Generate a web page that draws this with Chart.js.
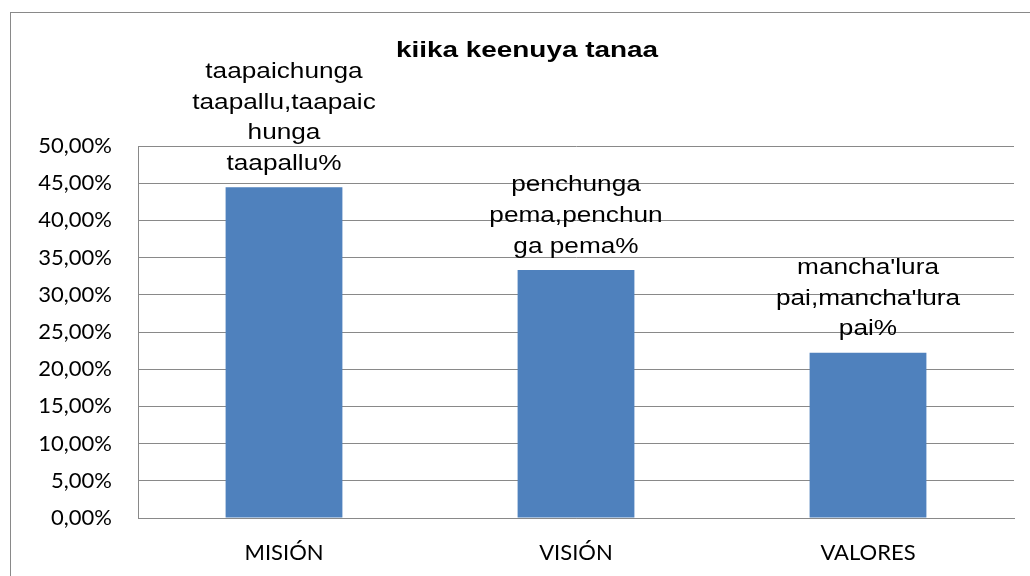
<!DOCTYPE html>
<html>
<head>
<meta charset="utf-8">
<script src="https://cdn.jsdelivr.net/npm/chart.js@4/dist/chart.umd.min.js"></script>
<style>
  html, body { margin: 0; padding: 0; background: #fff; }
  #wrap { width: 1030px; height: 576px; position: relative; overflow: hidden; }
</style>
</head>
<body>
<div id="wrap"><canvas id="c" width="1030" height="576"></canvas></div>
<script>
const chartTitle = "kiika keenuya tanaa";
const categories = ["MISIÓN", "VISIÓN", "VALORES"];
const seriesValues = [44.44, 33.33, 22.22];
const dataLabels = [
  ["taapaichunga", "taapallu,taapaic", "hunga", "taapallu%"],
  ["penchunga", "pema,penchun", "ga pema%"],
  ["mancha'lura", "pai,mancha'lura", "pai%"]
];
const yTickLabels = ["0,00%", "5,00%", "10,00%", "15,00%", "20,00%", "25,00%",
                     "30,00%", "35,00%", "40,00%", "45,00%", "50,00%"];

const GRID = '#898989';

const decorPlugin = {
  id: 'decor',
  beforeDraw(chart) {
    const ctx = chart.ctx;
    ctx.save();
    ctx.strokeStyle = GRID;
    ctx.lineWidth = 1;
    ctx.strokeRect(10.5, 12.5, 1300, 1000);
    ctx.restore();
  },
  afterDraw(chart) {
    const ctx = chart.ctx;
    ctx.save();
    ctx.fillStyle = '#000';
    // title
    ctx.font = 'bold 21.8px "Liberation Sans", Arial, sans-serif';
    ctx.textAlign = 'center';
    ctx.textBaseline = 'alphabetic';
    ctx.save();
    ctx.translate(527, 57);
    ctx.scale(1.28, 1);
    ctx.fillText(chartTitle, 0, 0);
    ctx.restore();
    // data labels
    const meta = chart.getDatasetMeta(0);
    ctx.font = '22.3px "Liberation Sans", Arial, sans-serif';
    meta.data.forEach((bar, i) => {
      const lines = dataLabels[i];
      const n = lines.length;
      const lastBase = bar.y - 17.5;
      lines.forEach((ln, j) => {
        const y = lastBase - (n - 1 - j) * 30.6;
        ctx.save();
        ctx.translate(bar.x, y);
        ctx.scale(1.175, 1);
        ctx.fillText(ln, 0, 0);
        ctx.restore();
      });
    });
    ctx.restore();
  }
};

new Chart(document.getElementById('c'), {
  type: 'bar',
  data: {
    labels: categories,
    datasets: [{
      data: seriesValues,
      backgroundColor: '#4F81BD',
      borderWidth: 0,
      barPercentage: 0.4,
      categoryPercentage: 1.0
    }]
  },
  options: {
    responsive: false,
    animation: false,
    devicePixelRatio: 1,
    layout: { padding: { left: 0, top: 146, right: 16, bottom: 0 } },
    plugins: {
      legend: { display: false },
      title: { display: false },
      tooltip: { enabled: false }
    },
    scales: {
      x: {
        offset: true,
        grid: { display: false, drawTicks: false },
        border: { display: true, color: GRID, width: 1 },
        ticks: {
          color: '#000',
          font: { family: 'Lato', size: 22 },
          padding: 22,
          maxRotation: 0
        },
        afterFit(scale) { scale.height = 58; }
      },
      y: {
        min: 0,
        max: 50,
        grid: { color: GRID, lineWidth: 1, drawTicks: false },
        border: { display: true, color: GRID, width: 1 },
        ticks: {
          stepSize: 5,
          color: '#000',
          font: { family: 'Lato', size: 22 },
          padding: 26,
          callback: (v, i) => yTickLabels[i]
        },
        afterFit(scale) { scale.width = 138; }
      }
    }
  },
  plugins: [decorPlugin]
});
</script>
</body>
</html>
